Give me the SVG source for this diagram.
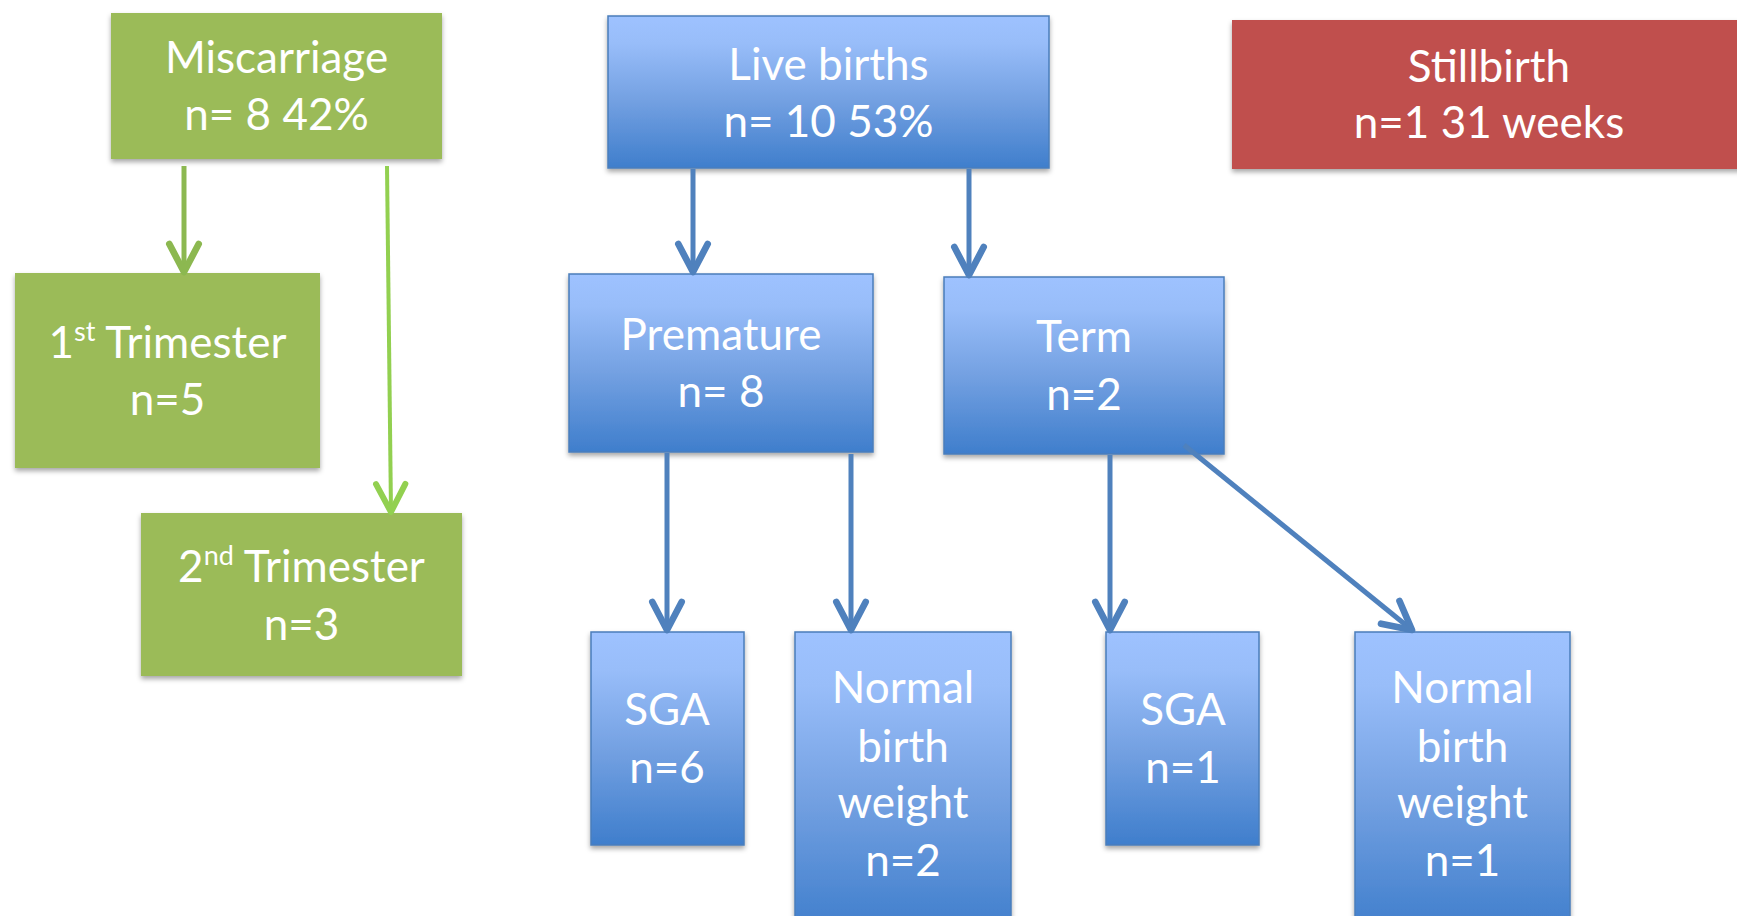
<svg xmlns="http://www.w3.org/2000/svg" width="1737" height="916" viewBox="0 0 1737 916">
<defs>
<linearGradient id="blueGrad" x1="0" y1="0" x2="0" y2="1">
<stop offset="0" stop-color="#9EC2FF"/>
<stop offset="0.18" stop-color="#98BDF9"/>
<stop offset="0.55" stop-color="#74A1E2"/>
<stop offset="1" stop-color="#3F7ECC"/>
</linearGradient>
<filter id="shadow" x="-10%" y="-10%" width="120%" height="125%">
<feDropShadow dx="0" dy="3" stdDeviation="2.5" flood-color="#000" flood-opacity="0.35"/>
</filter>
<marker id="arrBlue" markerUnits="userSpaceOnUse" markerWidth="40" markerHeight="40" viewBox="-25 -15 30 30" refX="0" refY="0" orient="auto" overflow="visible">
<path d="M -21 -11 L 0 0 L -21 11" fill="none" stroke="#4F81BD" stroke-width="5" stroke-linecap="round" stroke-linejoin="round"/>
</marker>
<marker id="arrGreen1" markerUnits="userSpaceOnUse" markerWidth="40" markerHeight="40" viewBox="-25 -15 30 30" refX="0" refY="0" orient="auto" overflow="visible">
<path d="M -21 -11 L 0 0 L -21 11" fill="none" stroke="#8CB850" stroke-width="5" stroke-linecap="round" stroke-linejoin="round"/>
</marker>
<marker id="arrGreen2" markerUnits="userSpaceOnUse" markerWidth="40" markerHeight="40" viewBox="-25 -15 30 30" refX="0" refY="0" orient="auto" overflow="visible">
<path d="M -21 -11 L 0 0 L -21 11" fill="none" stroke="#92D050" stroke-width="4.5" stroke-linecap="round" stroke-linejoin="round"/>
</marker>
</defs>
<style>
.green { fill: #9BBB59; filter: url(#shadow); }
.red { fill: #C0504D; filter: url(#shadow); }
.blue { fill: url(#blueGrad); stroke: #4A7EBB; stroke-width: 1.5; filter: url(#shadow); }
.lbl { font-family: Lato, "Open Sans", "Liberation Sans", sans-serif; font-size: 44px; fill: #FFFFFF; text-anchor: middle; }
.sup { font-size: 27px; }
.cb { fill: none; stroke: #4F81BD; stroke-width: 5; marker-end: url(#arrBlue); }
.cg1 { fill: none; stroke: #8CB850; stroke-width: 5; marker-end: url(#arrGreen1); }
.cg2 { fill: none; stroke: #92D050; stroke-width: 4; marker-end: url(#arrGreen2); }
</style>
<rect width="1737" height="916" fill="#FFFFFF"/>

<g id="miscarriage">
<rect class="green" x="111" y="13" width="331" height="146"/>
<text class="lbl" x="276.5" y="73">Miscarriage</text>
<text class="lbl" x="276.5" y="130">n= 8 42%</text>
</g>

<g id="live-births">
<rect class="blue" x="608" y="16" width="441" height="152"/>
<text class="lbl" x="828.5" y="80">Live births</text>
<text class="lbl" x="828.5" y="137">n= 10 53%</text>
</g>

<g id="stillbirth">
<rect class="red" x="1232" y="20" width="520" height="149"/>
<text class="lbl" x="1489" y="82">Stillbirth</text>
<text class="lbl" x="1489" y="138">n=1 31 weeks</text>
</g>

<g id="first-trimester">
<rect class="green" x="15" y="273" width="305" height="195"/>
<text class="lbl" x="167.5" y="358">1<tspan class="sup" dy="-17">st</tspan><tspan dy="17"> Trimester</tspan></text>
<text class="lbl" x="167.5" y="415">n=5</text>
</g>

<g id="second-trimester">
<rect class="green" x="141" y="513" width="321" height="163"/>
<text class="lbl" x="301.5" y="582">2<tspan class="sup" dy="-17">nd</tspan><tspan dy="17"> Trimester</tspan></text>
<text class="lbl" x="301.5" y="640">n=3</text>
</g>

<g id="premature">
<rect class="blue" x="569" y="274" width="304" height="178"/>
<text class="lbl" x="721" y="350">Premature</text>
<text class="lbl" x="721" y="407">n= 8</text>
</g>

<g id="term">
<rect class="blue" x="944" y="277" width="280" height="177"/>
<text class="lbl" x="1084" y="352">Term</text>
<text class="lbl" x="1084" y="410">n=2</text>
</g>

<g id="sga-premature">
<rect class="blue" x="591" y="632" width="153" height="213"/>
<text class="lbl" x="667" y="725">SGA</text>
<text class="lbl" x="667" y="783">n=6</text>
</g>

<g id="nbw-premature">
<rect class="blue" x="795" y="632" width="216" height="300"/>
<text class="lbl" x="903" y="703">Normal</text>
<text class="lbl" x="903" y="762">birth</text>
<text class="lbl" x="903" y="818">weight</text>
<text class="lbl" x="903" y="876">n=2</text>
</g>

<g id="sga-term">
<rect class="blue" x="1106" y="632" width="153" height="213"/>
<text class="lbl" x="1183" y="725">SGA</text>
<text class="lbl" x="1183" y="783">n=1</text>
</g>

<g id="nbw-term">
<rect class="blue" x="1355" y="632" width="215" height="300"/>
<text class="lbl" x="1462.5" y="703">Normal</text>
<text class="lbl" x="1462.5" y="762">birth</text>
<text class="lbl" x="1462.5" y="818">weight</text>
<text class="lbl" x="1462.5" y="876">n=1</text>
</g>

<g id="connectors">
<line class="cg1" x1="184" y1="166" x2="184" y2="272"/>
<line class="cg2" x1="387" y1="166" x2="391" y2="512"/>
<line class="cb" x1="693" y1="169" x2="693" y2="272"/>
<line class="cb" x1="969" y1="169" x2="969" y2="275"/>
<line class="cb" x1="667" y1="453" x2="667" y2="630"/>
<line class="cb" x1="851" y1="454" x2="851" y2="630"/>
<line class="cb" x1="1110" y1="455" x2="1110" y2="630"/>
<line class="cb" x1="1184" y1="445" x2="1412" y2="630"/>
</g>
</svg>
